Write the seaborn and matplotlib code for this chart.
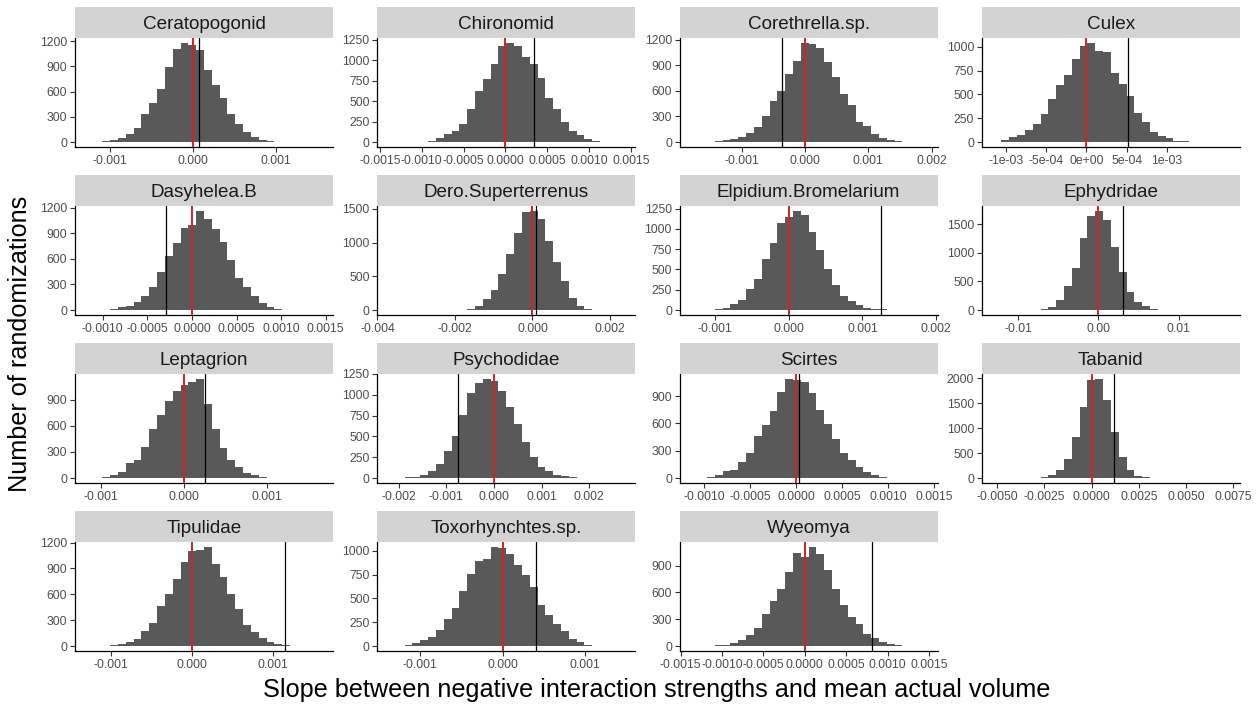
import numpy as np
import pandas as pd
import matplotlib
matplotlib.use("Agg")
import matplotlib.pyplot as plt
import seaborn as sns

# ---------------- data ----------------
species = ["Ceratopogonid", "Chironomid", "Corethrella.sp.", "Culex",
           "Dasyhelea.B", "Dero.Superterrenus", "Elpidium.Bromelarium", "Ephydridae",
           "Leptagrion", "Psychodidae", "Scirtes", "Tabanid",
           "Tipulidae", "Toxorhynchtes.sp.", "Wyeomya"]

# histogram range (30 bins) of the randomized slopes per species
hist_lo = [-0.00128, -0.00139, -0.00180, -0.00115, -0.00118, -0.00370, -0.00132, -0.01304,
           -0.00117, -0.00220, -0.00114, -0.00518, -0.00130, -0.00138, -0.00137]
hist_hi = [0.00154, 0.00141, 0.00191, 0.00176, 0.00145, 0.00235, 0.00186, 0.01614,
           0.00166, 0.00272, 0.00141, 0.00722, 0.00160, 0.00147, 0.00146]

# observed slope (black line); null reference (red line) is 0
observed = [0.00007, 0.00034, -0.000365, 0.000515, -0.00029, 0.0001, 0.00125, 0.0030,
            0.00026, -0.00075, 0.00003, 0.00121, 0.00115, 0.00040, 0.000815]
null_value = 0.0

counts_ceratopogonid = [1, 3, 10, 20, 45, 100, 170, 330, 460, 630, 890, 1110, 1180, 1150, 1100,
                        860, 680, 530, 330, 210, 120, 65, 30, 15, 5, 2, 1, 0, 0, 1]
counts_chironomid = [1, 0, 1, 2, 5, 15, 45, 100, 130, 220, 400, 620, 770, 950, 1170,
                     1210, 1170, 1040, 950, 780, 540, 400, 240, 130, 90, 40, 15, 5, 2, 1]
counts_corethrella = [1, 1, 3, 10, 20, 30, 60, 110, 180, 300, 480, 600, 800, 950, 1160,
                      1150, 1100, 940, 760, 560, 430, 240, 190, 100, 50, 20, 8, 3, 1, 1]
counts_culex = [3, 20, 50, 70, 130, 185, 290, 450, 600, 700, 870, 1010, 1040, 960, 940,
                720, 610, 480, 310, 210, 110, 60, 40, 15, 8, 3, 1, 0, 0, 1]
counts_dasyhelea = [1, 2, 5, 15, 30, 50, 90, 160, 270, 450, 630, 790, 960, 990, 1160,
                    1060, 950, 800, 590, 380, 270, 160, 80, 30, 10, 3, 2, 1, 0, 1]
counts_dero = [1, 0, 0, 0, 0, 0, 0, 1, 2, 5, 20, 60, 160, 290, 540,
               830, 1150, 1450, 1470, 1350, 1020, 710, 430, 180, 60, 15, 5, 2, 1, 1]
counts_elpidium = [1, 2, 5, 15, 30, 70, 120, 260, 380, 630, 830, 1070, 1140, 1220, 1170,
                   960, 740, 500, 310, 170, 110, 60, 30, 15, 8, 3, 1, 1, 0, 1]
counts_ephydridae = [1, 0, 0, 1, 2, 5, 20, 50, 170, 420, 740, 1260, 1640, 1730, 1580,
                     1100, 660, 320, 140, 70, 10, 4, 2, 1, 0, 0, 0, 1, 0, 1]
counts_leptagrion = [1, 5, 15, 30, 70, 170, 210, 360, 560, 720, 890, 1000, 1070, 1100, 1140,
                     850, 560, 350, 210, 130, 60, 30, 10, 5, 2, 1, 0, 1, 0, 1]
counts_psychodidae = [1, 3, 10, 15, 40, 90, 170, 320, 510, 760, 1020, 1140, 1190, 1170, 1050,
                      850, 650, 430, 250, 130, 90, 40, 20, 8, 3, 1, 1, 0, 0, 1]
counts_scirtes = [1, 5, 15, 30, 75, 90, 180, 280, 460, 580, 740, 950, 1090, 1080, 1060,
                  930, 750, 590, 430, 270, 200, 120, 70, 30, 15, 5, 2, 1, 0, 1]
counts_tabanid = [1, 0, 0, 1, 2, 5, 20, 70, 160, 380, 820, 1430, 1970, 1990, 1560,
                  920, 420, 160, 50, 15, 5, 2, 1, 0, 0, 0, 0, 0, 0, 1]
counts_tipulidae = [1, 1, 5, 10, 20, 50, 80, 170, 270, 460, 600, 780, 970, 1100, 1120,
                    1150, 950, 800, 600, 430, 240, 160, 90, 50, 25, 10, 3, 1, 1, 1]
counts_toxorhynchtes = [1, 5, 15, 35, 60, 100, 170, 280, 400, 580, 760, 890, 910, 1040, 1030,
                        970, 850, 750, 620, 430, 330, 230, 160, 70, 40, 10, 5, 3, 1, 1]
counts_wyeomya = [1, 1, 3, 15, 10, 30, 70, 120, 200, 360, 500, 640, 830, 1040, 1000,
                  1110, 1030, 850, 640, 460, 330, 250, 130, 90, 40, 25, 15, 5, 2, 1]

all_counts = [counts_ceratopogonid, counts_chironomid, counts_corethrella, counts_culex,
              counts_dasyhelea, counts_dero, counts_elpidium, counts_ephydridae,
              counts_leptagrion, counts_psychodidae, counts_scirtes, counts_tabanid,
              counts_tipulidae, counts_toxorhynchtes, counts_wyeomya]

x_tick_values = [
    [-0.001, 0.0, 0.001],
    [-0.0015, -0.001, -0.0005, 0.0, 0.0005, 0.001, 0.0015],
    [-0.001, 0.0, 0.001, 0.002],
    [-0.001, -0.0005, 0.0, 0.0005, 0.001],
    [-0.001, -0.0005, 0.0, 0.0005, 0.001, 0.0015],
    [-0.004, -0.002, 0.0, 0.002],
    [-0.001, 0.0, 0.001, 0.002],
    [-0.01, 0.0, 0.01],
    [-0.001, 0.0, 0.001],
    [-0.002, -0.001, 0.0, 0.001, 0.002],
    [-0.001, -0.0005, 0.0, 0.0005, 0.001, 0.0015],
    [-0.005, -0.0025, 0.0, 0.0025, 0.005, 0.0075],
    [-0.001, 0.0, 0.001],
    [-0.001, 0.0, 0.001],
    [-0.0015, -0.001, -0.0005, 0.0, 0.0005, 0.001, 0.0015],
]
x_tick_labels = [
    ["-0.001", "0.000", "0.001"],
    ["-0.0015", "-0.0010", "-0.0005", "0.0000", "0.0005", "0.0010", "0.0015"],
    ["-0.001", "0.000", "0.001", "0.002"],
    ["-1e-03", "-5e-04", "0e+00", "5e-04", "1e-03"],
    ["-0.0010", "-0.0005", "0.0000", "0.0005", "0.0010", "0.0015"],
    ["-0.004", "-0.002", "0.000", "0.002"],
    ["-0.001", "0.000", "0.001", "0.002"],
    ["-0.01", "0.00", "0.01"],
    ["-0.001", "0.000", "0.001"],
    ["-0.002", "-0.001", "0.000", "0.001", "0.002"],
    ["-0.0010", "-0.0005", "0.0000", "0.0005", "0.0010", "0.0015"],
    ["-0.0050", "-0.0025", "0.0000", "0.0025", "0.0050", "0.0075"],
    ["-0.001", "0.000", "0.001"],
    ["-0.001", "0.000", "0.001"],
    ["-0.0015", "-0.0010", "-0.0005", "0.0000", "0.0005", "0.0010", "0.0015"],
]
y_tick_values = [
    [0, 300, 600, 900, 1200],
    [0, 250, 500, 750, 1000, 1250],
    [0, 300, 600, 900, 1200],
    [0, 250, 500, 750, 1000],
    [0, 300, 600, 900, 1200],
    [0, 500, 1000, 1500],
    [0, 250, 500, 750, 1000, 1250],
    [0, 500, 1000, 1500],
    [0, 300, 600, 900],
    [0, 250, 500, 750, 1000, 1250],
    [0, 300, 600, 900],
    [0, 500, 1000, 1500, 2000],
    [0, 300, 600, 900, 1200],
    [0, 250, 500, 750, 1000],
    [0, 300, 600, 900],
]

x_title = "Slope between negative interaction strengths and mean actual volume"
y_title = "Number of randomizations"

# ---------------- style ----------------
sns.set_theme(style="white")
plt.rcParams["font.family"] = ["Liberation Sans", "DejaVu Sans"]

W, H = 1258, 705
fig = plt.figure(figsize=(W / 100, H / 100), dpi=100)

bar_color = "#595959"
red_color = "#D92020"
strip_color = "#D3D3D3"

col_left = 75
col_step = 302.3
panel_w = 258
row_top = 38
row_step = 168
panel_h = 109
strip_h = 31

for i, name in enumerate(species):
    r, c = divmod(i, 4)
    left = col_left + c * col_step
    top = row_top + r * row_step
    ax = fig.add_axes([left / W, 1 - (top + panel_h) / H, panel_w / W, panel_h / H])
    lo, hi = hist_lo[i], hist_hi[i]
    counts = np.asarray(all_counts[i], dtype=float)
    nb = len(counts)
    centers = lo + (np.arange(nb) + 0.5) * (hi - lo) / nb
    df = pd.DataFrame({"slope": centers, "n": counts})
    sns.histplot(data=df, x="slope", weights="n", bins=nb, binrange=(lo, hi), ax=ax,
                 color=bar_color, alpha=1, linewidth=0, edgecolor=None)
    span = hi - lo
    ax.set_xlim(lo - 0.05 * span, hi + 0.05 * span)
    ymax = counts.max()
    ax.set_ylim(-0.05 * ymax, 1.05 * ymax)
    ax.axvline(null_value, color=red_color, lw=1.4, zorder=5)
    ax.axvline(observed[i], color="black", lw=0.9, zorder=5)
    ax.set_xticks(x_tick_values[i])
    ax.set_xticklabels(x_tick_labels[i])
    ax.set_yticks(y_tick_values[i])
    ax.set_xlabel("")
    ax.set_ylabel("")
    ax.set_facecolor("white")
    for s in ["top", "right"]:
        ax.spines[s].set_visible(False)
    for s in ["left", "bottom"]:
        ax.spines[s].set_color("black")
        ax.spines[s].set_linewidth(0.9)
    ax.tick_params(axis="both", which="major", length=3.5, width=0.8, color="#333333",
                   labelcolor="#4D4D4D", labelsize=8.8, pad=2, direction="out",
                   bottom=True, left=True)
    ax.grid(False)

    sax = fig.add_axes([left / W, 1 - top / H, panel_w / W, strip_h / H])
    sax.set_facecolor(strip_color)
    sax.set_xticks([])
    sax.set_yticks([])
    for s in sax.spines.values():
        s.set_visible(False)
    sax.text(0.5, 0.45, name, ha="center", va="center", fontsize=13.6, color="#1A1A1A",
             transform=sax.transAxes)

fig.text(657 / W, 1 - 690 / H, x_title, ha="center", va="center", fontsize=18.2, color="black")
fig.text(20 / W, 1 - 344 / H, y_title, ha="center", va="center", rotation=90, fontsize=18.2,
         color="black")

fig.savefig("out.png", dpi=100, facecolor="white")
